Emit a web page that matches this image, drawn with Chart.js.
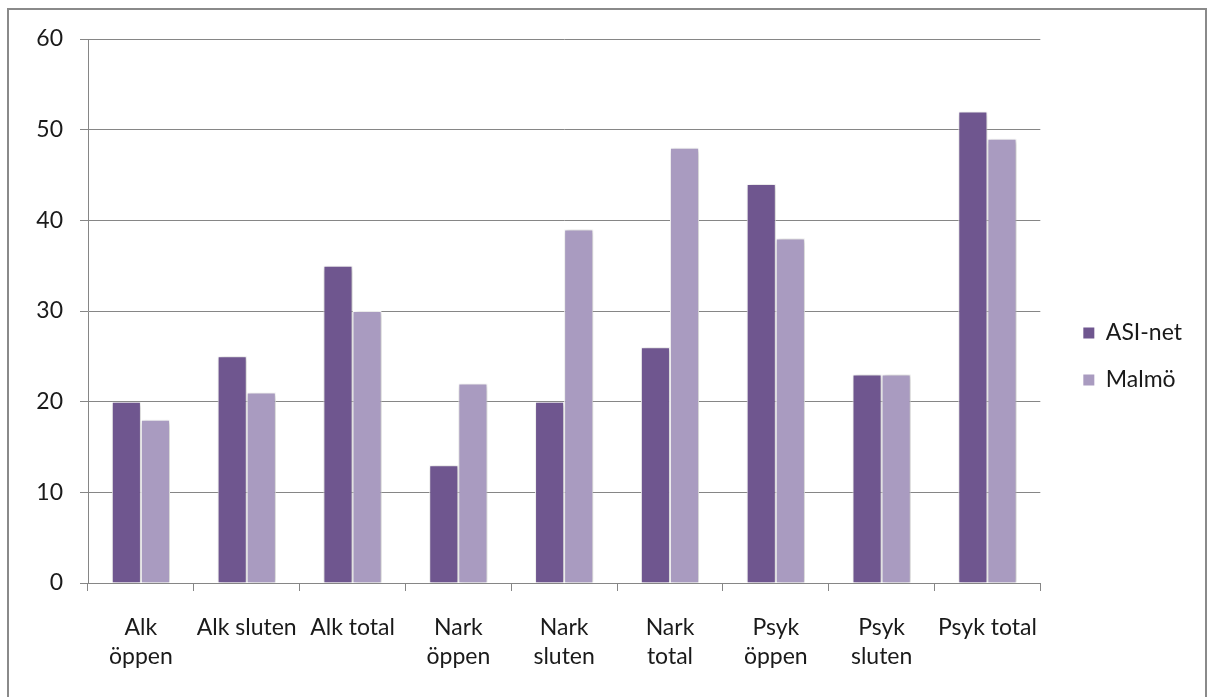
<!DOCTYPE html>
<html>
<head>
<meta charset="utf-8">
<script src="https://cdn.jsdelivr.net/npm/chart.js@4/dist/chart.umd.min.js"></script>
<style>
    body { margin: 0; background: #fff; overflow: hidden; }
    .frame { position: absolute; left: 7px; top: 8px; width: 1200px; height: 720px; border: 2px solid #8a8a8a; box-sizing: border-box; }
    #chart { position: absolute; left: 0; top: 0; }
</style>
</head>
<body>
<div class="frame"></div>
<canvas id="chart" width="1208" height="697"></canvas>
<script>
// Data
const kategorier = [
    ["Alk", "öppen"], "Alk sluten", "Alk total",
    ["Nark", "öppen"], ["Nark", "sluten"], ["Nark", "total"],
    ["Psyk", "öppen"], ["Psyk", "sluten"], "Psyk total"
];
const asiNet = [20, 25, 35, 13, 20, 26, 44, 23, 52];
const malmo = [18, 21, 30, 22, 39, 48, 38, 23, 49];
const yTicks = [0, 10, 20, 30, 40, 50, 60];

const gridColor = '#868686';
const font = { family: 'Lato', size: 23 };

// soft shadow behind the bars
const barShadow = {
    id: 'barShadow',
    beforeDatasetsDraw(chart) {
        const c = chart.ctx;
        c.save();
        c.shadowColor = 'rgba(0,0,0,0.3)';
        c.shadowBlur = 5;
        c.shadowOffsetX = 1;
        c.shadowOffsetY = 1;
    },
    afterDatasetsDraw(chart) {
        chart.ctx.restore();
    }
};

const ctx = document.getElementById('chart').getContext('2d');
new Chart(ctx, {
    type: 'bar',
    data: {
        labels: kategorier,
        datasets: [
            { label: 'ASI-net', data: asiNet, backgroundColor: '#6f568f', borderColor: '#fff', borderWidth: 1 },
            { label: 'Malmö', data: malmo, backgroundColor: '#a99bc0', borderColor: '#fff', borderWidth: 1 }
        ]
    },
    options: {
        responsive: false,
        devicePixelRatio: 1,
        animation: false,
        categoryPercentage: 0.55,
        barPercentage: 1,
        layout: { padding: { top: 39, bottom: 23, left: 20, right: 16 } },
        scales: {
            x: {
                grid: { display: true, drawOnChartArea: false, tickLength: 8, color: gridColor, offset: true },
                border: { color: gridColor },
                ticks: { color: '#1a1a1a', font: { ...font, lineHeight: 29 / 23 }, padding: 22, autoSkip: false, maxRotation: 0 },
                afterFit: s => { s.height = 91; }
            },
            y: {
                min: 0,
                max: 60,
                afterBuildTicks: s => { s.ticks = yTicks.map(v => ({ value: v })); },
                grid: { color: gridColor, tickLength: 8 },
                border: { color: gridColor },
                ticks: { color: '#1a1a1a', font: font, padding: 17 },
                afterFit: s => { s.width = 68; }
            },
            pad: {
                type: 'linear',
                position: 'right',
                grid: { display: false },
                border: { display: false },
                ticks: { display: false },
                afterFit: s => { s.width = 19; }
            }
        },
        plugins: {
            legend: {
                position: 'right',
                labels: {
                    color: '#1a1a1a',
                    font: font,
                    boxWidth: 11,
                    boxHeight: 11,
                    padding: 24,
                    generateLabels: chart => Chart.defaults.plugins.legend.labels.generateLabels(chart)
                        .map(l => ({ ...l, lineWidth: 0 }))
                }
            },
            tooltip: { enabled: false }
        }
    },
    plugins: [barShadow]
});
</script>
</body>
</html>
